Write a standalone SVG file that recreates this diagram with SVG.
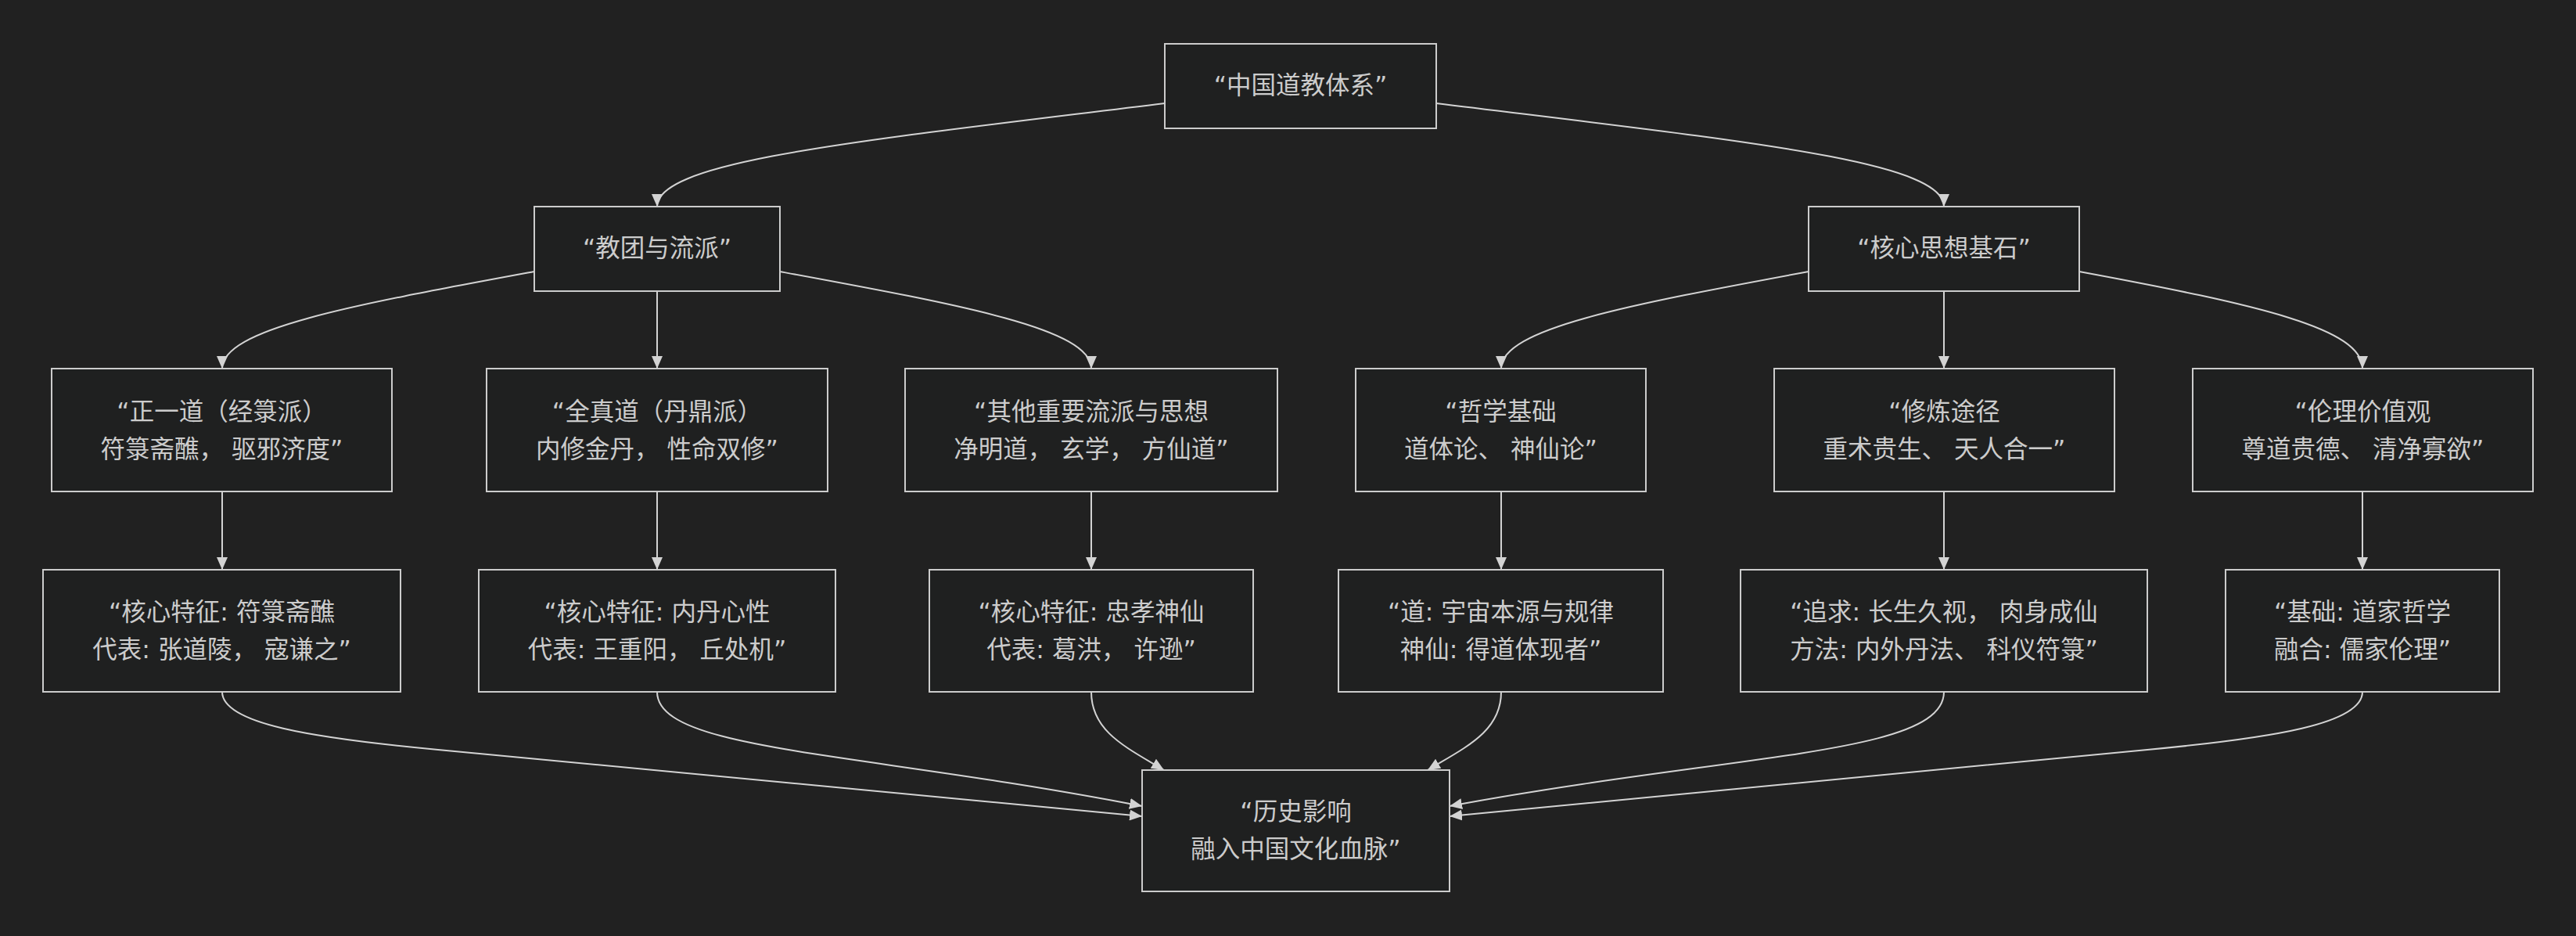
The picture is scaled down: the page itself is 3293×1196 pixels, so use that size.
<svg xmlns="http://www.w3.org/2000/svg" width="3293" height="1196" viewBox="0 0 3293 1196">
<style>
.node rect{fill:#1f2020;stroke:#cccccc;stroke-width:2}
.node text{fill:#cccccc;font-family:"DejaVu Sans","Noto Sans CJK SC",sans-serif;font-size:31.5px;text-anchor:middle;dominant-baseline:central;white-space:pre}
.edges path{fill:none;stroke:#d3d3d3;stroke-width:2;marker-end:url(#arrow)}
</style>
<defs>
<marker id="arrow" markerUnits="userSpaceOnUse" markerWidth="16" markerHeight="14" viewBox="0 0 16 14" refX="16" refY="7" orient="auto">
<path d="M0,0 L16,7 L0,14 z" fill="#d3d3d3"/>
</marker>
</defs>
<rect width="3293" height="1196" fill="#212121"/>
<g class="edges">
<path d="M1489,132 C1100,180 840,205 840,264"/>
<path d="M1836,132 C2225,180 2485,205 2485,264"/>
<path d="M683,347 C450,390 284,420 284,471"/>
<path d="M840,372 L840,471"/>
<path d="M997,347 C1230,390 1395,420 1395,471"/>
<path d="M2312,347 C2080,390 1919,420 1919,471"/>
<path d="M2485,372 L2485,471"/>
<path d="M2658,347 C2890,390 3020,420 3020,471"/>
<path d="M284,628 L284,728"/>
<path d="M840,628 L840,728"/>
<path d="M1395,628 L1395,728"/>
<path d="M1919,628 L1919,728"/>
<path d="M2485,628 L2485,728"/>
<path d="M3020,628 L3020,728"/>
<path d="M284,884 C284,925 400,943 560,958 L1460,1043"/>
<path d="M840,884 C840,960 1100,960 1460,1030"/>
<path d="M1395,884 C1395,935 1440,955 1488,984"/>
<path d="M1919,884 C1919,935 1873,955 1825,984"/>
<path d="M2485,884 C2485,965 2220,962 1853,1030"/>
<path d="M3020,884 C3020,925 2905,943 2745,958 L1853,1043"/>
</g>
<g id="root" class="node"><rect x="1489" y="56" width="347" height="108"/><text x="1662.5" y="109">“中国道教体系”</text></g>
<g id="sects" class="node"><rect x="683" y="264" width="314" height="108"/><text x="840" y="317">“教团与流派”</text></g>
<g id="core" class="node"><rect x="2312" y="264" width="346" height="108"/><text x="2485" y="317">“核心思想基石”</text></g>
<g id="zhengyi" class="node"><rect x="66" y="471" width="435" height="157"/><text x="283.5" y="526">“正一道（经箓派）</text><text x="283.5" y="574">符箓斋醮， 驱邪济度”</text></g>
<g id="quanzhen" class="node"><rect x="622" y="471" width="436" height="157"/><text x="840" y="526">“全真道（丹鼎派）</text><text x="840" y="574">内修金丹， 性命双修”</text></g>
<g id="others" class="node"><rect x="1157" y="471" width="476" height="157"/><text x="1395" y="526">“其他重要流派与思想</text><text x="1395" y="574">净明道， 玄学， 方仙道”</text></g>
<g id="philo" class="node"><rect x="1733" y="471" width="371" height="157"/><text x="1918.5" y="526">“哲学基础</text><text x="1918.5" y="574">道体论、 神仙论”</text></g>
<g id="practice" class="node"><rect x="2268" y="471" width="435" height="157"/><text x="2485.5" y="526">“修炼途径</text><text x="2485.5" y="574">重术贵生、 天人合一”</text></g>
<g id="ethics" class="node"><rect x="2803" y="471" width="435" height="157"/><text x="3020.5" y="526">“伦理价值观</text><text x="3020.5" y="574">尊道贵德、 清净寡欲”</text></g>
<g id="zhengyi_d" class="node"><rect x="55" y="728" width="457" height="156"/><text x="283.5" y="782">“核心特征: 符箓斋醮</text><text x="283.5" y="830">代表: 张道陵， 寇谦之”</text></g>
<g id="quanzhen_d" class="node"><rect x="612" y="728" width="456" height="156"/><text x="840" y="782">“核心特征: 内丹心性</text><text x="840" y="830">代表: 王重阳， 丘处机”</text></g>
<g id="others_d" class="node"><rect x="1188" y="728" width="414" height="156"/><text x="1395" y="782">“核心特征: 忠孝神仙</text><text x="1395" y="830">代表: 葛洪， 许逊”</text></g>
<g id="philo_d" class="node"><rect x="1711" y="728" width="415" height="156"/><text x="1918.5" y="782">“道: 宇宙本源与规律</text><text x="1918.5" y="830">神仙: 得道体现者”</text></g>
<g id="practice_d" class="node"><rect x="2225" y="728" width="520" height="156"/><text x="2485" y="782">“追求: 长生久视， 肉身成仙</text><text x="2485" y="830">方法: 内外丹法、 科仪符箓”</text></g>
<g id="ethics_d" class="node"><rect x="2845" y="728" width="350" height="156"/><text x="3020" y="782">“基础: 道家哲学</text><text x="3020" y="830">融合: 儒家伦理”</text></g>
<g id="history" class="node"><rect x="1460" y="984" width="393" height="155"/><text x="1656.5" y="1037">“历史影响</text><text x="1656.5" y="1085">融入中国文化血脉”</text></g>
</svg>
